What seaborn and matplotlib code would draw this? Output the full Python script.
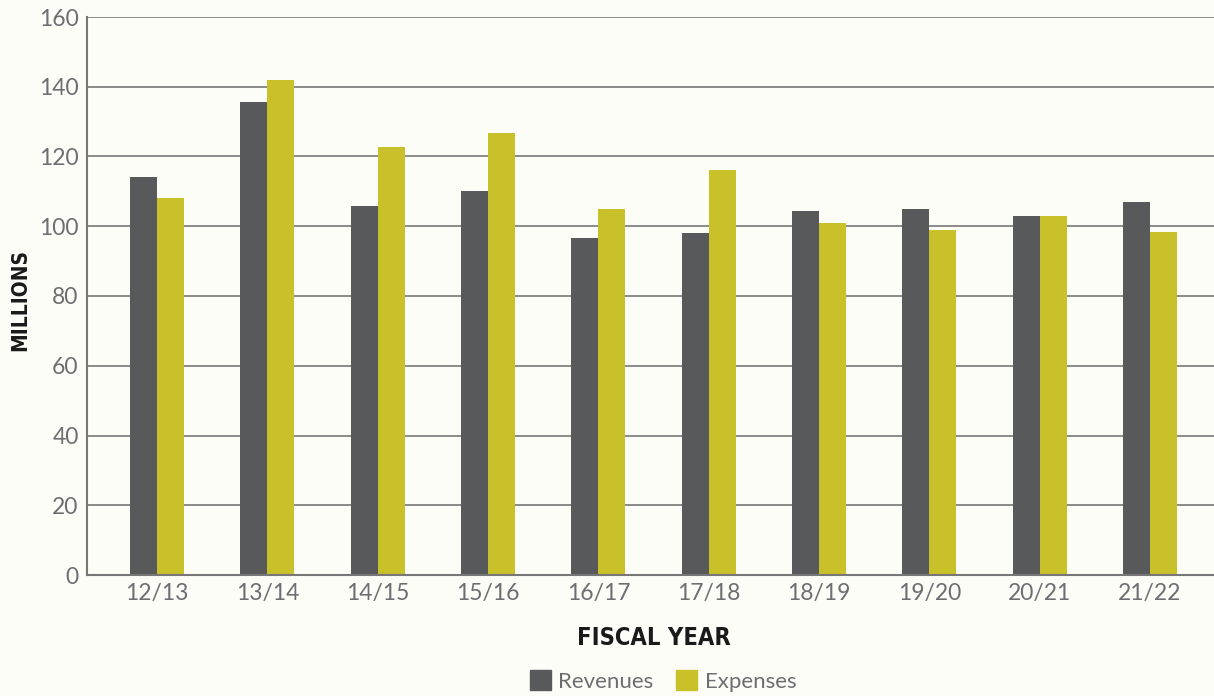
import pandas as pd
import matplotlib.pyplot as plt
import seaborn as sns

# values (millions)
years = ["12/13", "13/14", "14/15", "15/16", "16/17", "17/18", "18/19", "19/20", "20/21", "21/22"]
revenues = [114.1, 135.6, 105.7, 110.1, 96.6, 98.0, 104.3, 104.9, 102.9, 106.9]
expenses = [108.0, 142.0, 122.7, 126.7, 104.9, 116.1, 100.9, 98.9, 102.9, 98.3]

df = pd.DataFrame({
    "year": years * 2,
    "value": revenues + expenses,
    "kind": ["Revenues"] * len(years) + ["Expenses"] * len(years),
})

bg = "#fdfdf8"
sns.set_style("white")
plt.rcParams["font.family"] = ["Lato", "DejaVu Sans"]

fig = plt.figure(figsize=(12.14, 6.96), dpi=100, facecolor=bg)
ax = fig.add_axes([87 / 1214, 1 - 575 / 696, (1214 - 87) / 1214, (575 - 17) / 696])
ax.set_facecolor(bg)

sns.barplot(data=df, x="year", y="value", hue="kind",
            palette={"Revenues": "#58595b", "Expenses": "#c8c12a"},
            width=0.49, saturation=1, gap=0, linewidth=0, ax=ax, legend=False)

ax.set_ylim(0, 160)
ax.set_xlim(-0.635, 9.58)
ax.set_yticks(range(0, 161, 20))
ax.yaxis.grid(True, color="#777777", linewidth=1.2)
ax.set_axisbelow(True)
ax.tick_params(axis="both", length=0, labelsize=16.5, labelcolor="#6d6e71", pad=6)
for s in ["top", "right"]:
    ax.spines[s].set_visible(False)
for s in ["left", "bottom"]:
    ax.spines[s].set_color("#777777")
    ax.spines[s].set_linewidth(1.5)

ax.set_xlabel("")
ax.set_ylabel("")
# condensed bold for the axis titles
fig.text(654 / 1214, 1 - 638 / 696, "FISCAL YEAR", ha="center", va="center",
         fontsize=17, fontweight="bold", fontstretch="condensed", family="DejaVu Sans", color="#1a1a1a")
fig.text(20 / 1214, 1 - 300 / 696, "MILLIONS", ha="center", va="center", rotation=90,
         fontsize=15, fontweight="bold", fontstretch="condensed", family="DejaVu Sans", color="#1a1a1a")

handles = [plt.Rectangle((0, 0), 1, 1, color="#58595b"), plt.Rectangle((0, 0), 1, 1, color="#c8c12a")]
fig.legend(handles, ["Revenues", "Expenses"], loc="center", bbox_to_anchor=(663 / 1214, 1 - 681 / 696),
           ncol=2, frameon=False, fontsize=16, labelcolor="#6d6e71",
           handlelength=0.95, handleheight=0.95, handletextpad=0.35, columnspacing=1.0)

fig.savefig("out.png", dpi=100, facecolor=bg)
